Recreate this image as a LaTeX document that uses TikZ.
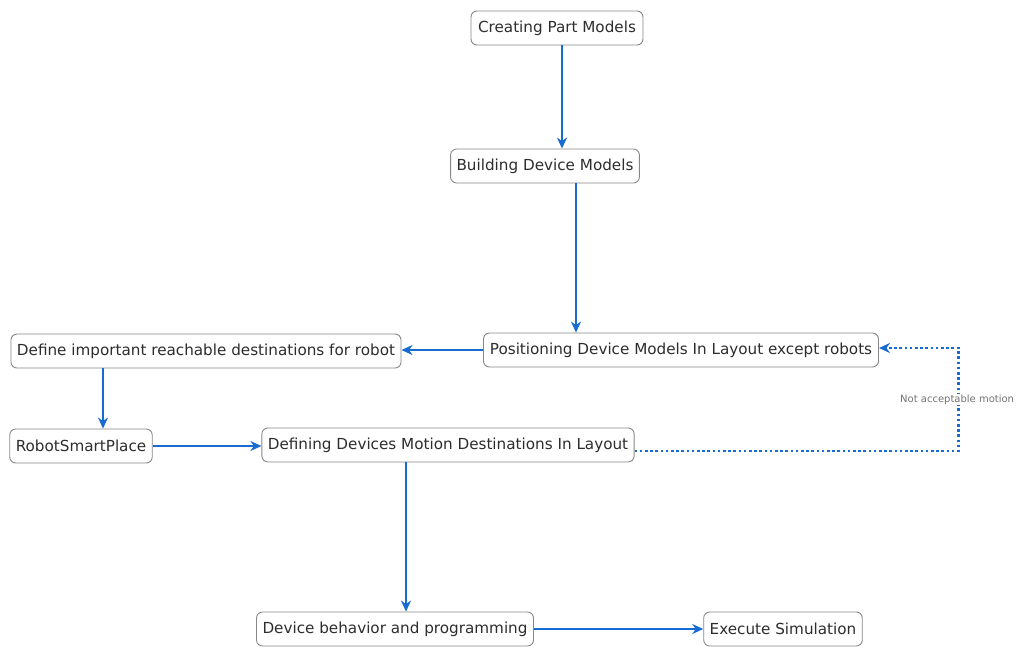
\documentclass[tikz,border=0pt]{standalone}
\usepackage{fontspec}
\setmainfont{DejaVu Sans}
\usetikzlibrary{arrows.meta}

\definecolor{flowblue}{RGB}{22,108,210}
\definecolor{boxgray}{RGB}{135,135,135}
\definecolor{textgray}{RGB}{45,45,45}

\begin{document}
\begin{tikzpicture}[
  x=1pt,y=-1pt,
  stepbox/.style={draw=boxgray, line width=0.9pt, rounded corners=6pt, fill=white, text=textgray,
    font=\fontsize{15.2}{18}\selectfont, minimum height=34pt, inner xsep=6pt, inner ysep=0pt},
  flow/.style={-{Stealth[length=11pt,width=10pt,inset=3.5pt]}, line width=2.8pt, flowblue},
  retry/.style={flow, dash pattern=on 2.6pt off 2.6pt}
]
\useasboundingbox (0,0) rectangle (1018,646);

% process steps
\node[stepbox, minimum width=172pt] (cpm) at (557,28) {Creating Part Models};
\node[stepbox, minimum width=187pt] (bdm) at (545,166) {Building Device Models};
\node[stepbox, minimum width=395pt] (pdm) at (681,350) {Positioning Device Models In Layout except robots};
\node[stepbox, minimum width=387pt] (dir) at (206,351) {Define important reachable destinations for robot};
\node[stepbox, minimum width=142pt] (rsp) at (81,446) {RobotSmartPlace};
\node[stepbox, minimum width=371pt] (ddm) at (448,445) {Defining Devices Motion Destinations In Layout};
\node[stepbox, minimum width=274pt] (dbp) at (395,629) {Device behavior and programming};
\node[stepbox, minimum width=156pt] (exs) at (783,629) {Execute Simulation};

% main flow
\draw[flow] ([xshift=5pt]cpm.south) -- ([xshift=5pt]cpm.south |- bdm.north);
\draw[flow] ([xshift=31pt]bdm.south) -- ([xshift=31pt]bdm.south |- pdm.north);
\draw[flow] (pdm.west) -- (pdm.west -| dir.east);
\draw[flow] ([xshift=-103pt]dir.south) -- ([xshift=-103pt]dir.south |- rsp.north);
\draw[flow] (rsp.east) -- (rsp.east -| ddm.west);
\draw[flow] ([xshift=-42pt]ddm.south) -- ([xshift=-42pt]ddm.south |- dbp.north);
\draw[flow] (dbp.east) -- (dbp.east -| exs.west);

% loop back when the motion is not acceptable
\draw[retry] ([yshift=-6pt]ddm.east) -- ++(324,0) |- ([yshift=2pt]pdm.east)
  node[pos=0.25, xshift=-1.5pt, fill=white, inner sep=1pt, text=black!55, font=\fontsize{10}{12}\selectfont] (nam) {Not acceptable motion};
\end{tikzpicture}
\end{document}
